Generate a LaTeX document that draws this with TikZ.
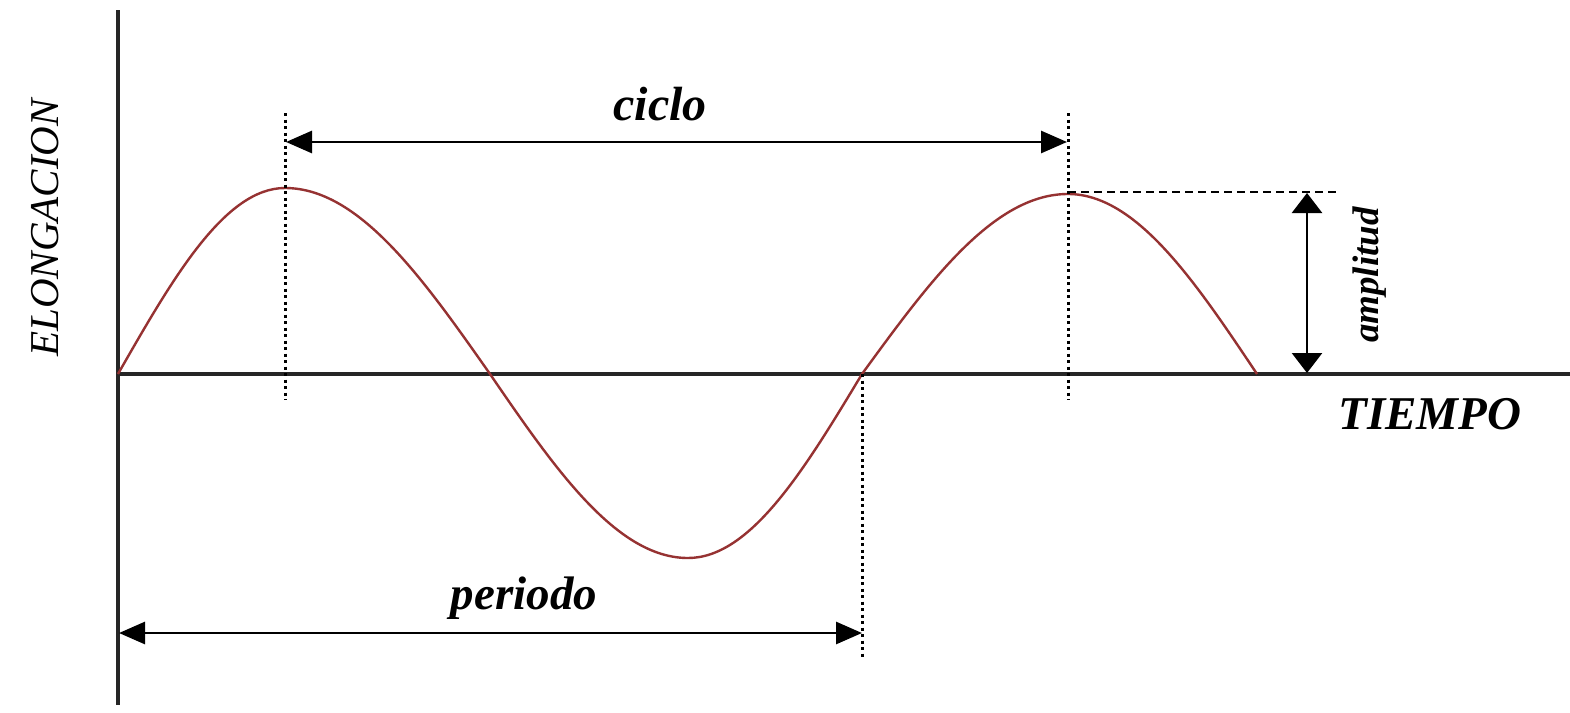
\documentclass[tikz,border=0pt]{standalone}
\usepackage{fontspec}
\setmainfont{Liberation Serif}
\usetikzlibrary{arrows.meta}
\definecolor{wavecol}{RGB}{150,50,50}
\begin{document}
\begin{tikzpicture}[x=1pt,y=-1pt,
  axis/.style={line width=3.4pt, black!85},
  wave/.style={line width=2.4pt, wavecol},
  guide/.style={line width=3pt, dash pattern=on 3pt off 3.5pt},
  dashline/.style={line width=2.6pt, dash pattern=on 8pt off 5pt},
  dimarrow/.style={line width=2.8pt, {Triangle[length=26pt,width=22pt]}-{Triangle[length=26pt,width=22pt]}},
  amparrow/.style={line width=2.6pt, {Triangle[length=20pt,width=30pt]}-{Triangle[length=20pt,width=30pt]}},
  lbl/.style={inner sep=0pt, font=\fontsize{47}{50}\selectfont\bfseries\itshape}]
\useasboundingbox (0,0) rectangle (1570,712);
\fill[white] (0,0) rectangle (1570,712);
% axes
\coordinate (O) at (118,374);
\coordinate (Ytop) at (118,10);
\coordinate (Ybot) at (118,705);
\coordinate (Xend) at (1570,374);
\draw[axis] (Ytop) -- (Ybot);
\draw[axis] (O) -- (Xend);
% wave
\coordinate (P1) at (285,188);
\coordinate (Z1) at (490,374);
\coordinate (T1) at (688,558);
\coordinate (Z2) at (862,374);
\coordinate (P2) at (1068,194);
\coordinate (Z3) at (1257,374);
\draw[wave] (O) sin (P1) cos (Z1) sin (T1) cos (Z2) sin (P2) cos (Z3);
% guide lines
\coordinate (g1a) at (285,113);
\coordinate (g1b) at (285,400);
\coordinate (g2a) at (1068,113);
\coordinate (g2b) at (1068,400);
\coordinate (g3b) at (862,660);
\draw[guide] (g1a) -- (g1b);
\draw[guide] (g2a) -- (g2b);
\draw[guide] (Z2) -- (g3b);
\coordinate (d1a) at (1068,192);
\coordinate (d1b) at (1340,192);
\draw[dashline] (d1a) -- (d1b);
% dimension arrows
\coordinate (c1) at (286,142);
\coordinate (c2) at (1067,142);
\draw[dimarrow] (c1) -- (c2);
\coordinate (p1) at (119,633);
\coordinate (p2) at (862,633);
\draw[dimarrow] (p1) -- (p2);
\coordinate (a1) at (1307,193);
\coordinate (a2) at (1307,373);
\draw[amparrow] (a1) -- (a2);
% labels
\node[lbl, font=\fontsize{48}{50}\selectfont\bfseries\itshape] (ciclo) at (660,104) {ciclo};
\node[lbl] (periodo) at (524,598) {periodo};
\node[lbl] (tiempo) at (1430,414) {TIEMPO};
\node[lbl, rotate=90, font=\fontsize{37}{40}\selectfont\bfseries\itshape] (amp) at (1370,275) {amplitud};
\node[inner sep=0pt, rotate=90, font=\fontsize{41}{44}\selectfont\itshape] (elong) at (45,228) {ELONGACION};
\end{tikzpicture}
\end{document}
